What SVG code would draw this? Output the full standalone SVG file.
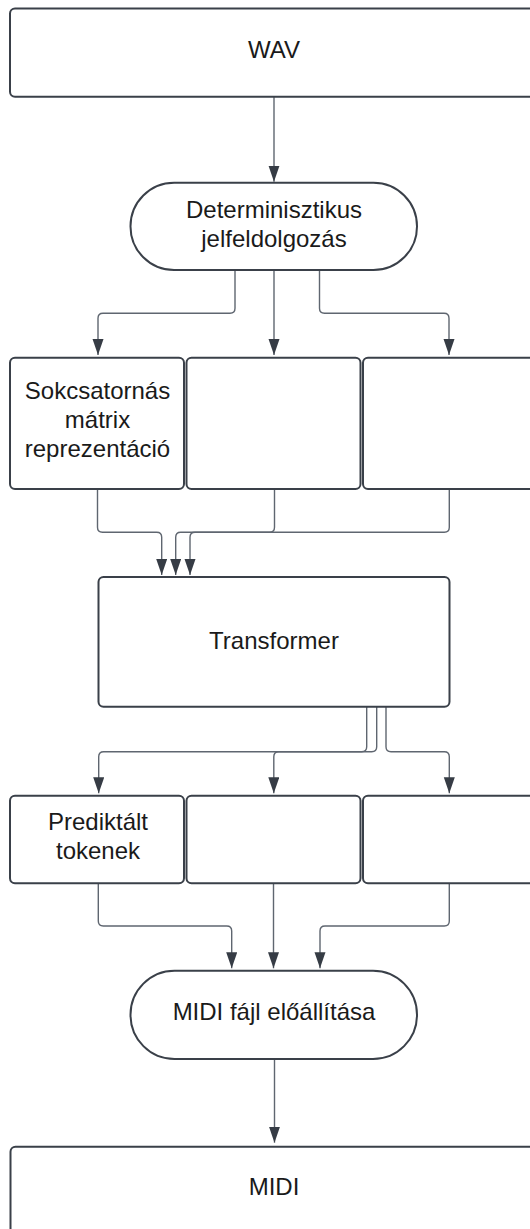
<svg xmlns="http://www.w3.org/2000/svg" width="530" height="1229" viewBox="0 0 530 1229">
<style>
.box{fill:#ffffff;stroke:#3a4049;stroke-width:2}
.lbl{font-family:"Liberation Sans",Arial,sans-serif;font-size:24px;fill:#1a1a1a;text-anchor:middle}
.con{fill:none;stroke:#5f6670;stroke-width:1.4}
</style>
<defs>
<marker id="ah" markerUnits="userSpaceOnUse" markerWidth="17" markerHeight="12" refX="16" refY="5.5" orient="auto">
<path d="M0,0 L16,5.5 L0,11 Z" fill="#363c45"/>
</marker>
</defs>
<rect width="530" height="1229" fill="#ffffff"/>
<g id="connectors">
<path class="con" marker-end="url(#ah)" d="M274 96.7 V181.7"/>
<path class="con" marker-end="url(#ah)" d="M235 270 V308.3 Q235 313.3 230 313.3 H103 Q98 313.3 98 318.3 V355"/>
<path class="con" marker-end="url(#ah)" d="M274 270 V355"/>
<path class="con" marker-end="url(#ah)" d="M319.5 270 V308.3 Q319.5 313.3 324.5 313.3 H444 Q449 313.3 449 318.3 V355"/>
<path class="con" marker-end="url(#ah)" d="M97.5 489 V527.3 Q97.5 532.3 102.5 532.3 H156.7 Q161.7 532.3 161.7 537.3 V575"/>
<path class="con" marker-end="url(#ah)" d="M274.5 489 V527.3 Q274.5 532.3 269.5 532.3 H180.7 Q175.7 532.3 175.7 537.3 V575"/>
<path class="con" marker-end="url(#ah)" d="M449.3 489 V527.3 Q449.3 532.3 444.3 532.3 H195 Q190 532.3 190 537.3 V575"/>
<path class="con" marker-end="url(#ah)" d="M366.7 706.7 V746.7 Q366.7 751.7 361.7 751.7 H103.7 Q98.7 751.7 98.7 756.7 V793.3"/>
<path class="con" marker-end="url(#ah)" d="M376.7 706.7 V746.7 Q376.7 751.7 371.7 751.7 H278.8 Q273.8 751.7 273.8 756.7 V793.3"/>
<path class="con" marker-end="url(#ah)" d="M386 706.7 V746.7 Q386 751.7 391 751.7 H444.3 Q449.3 751.7 449.3 756.7 V793.3"/>
<path class="con" marker-end="url(#ah)" d="M98.3 883.3 V921 Q98.3 926 103.3 926 H226.7 Q231.7 926 231.7 931 V968.3"/>
<path class="con" marker-end="url(#ah)" d="M273.5 883.3 V968.3"/>
<path class="con" marker-end="url(#ah)" d="M449.3 883.3 V921 Q449.3 926 444.3 926 H325 Q320 926 320 931 V968.3"/>
<path class="con" marker-end="url(#ah)" d="M274.5 1059 V1142.7"/>
</g>
<g id="wav">
<rect class="box" x="10" y="8.5" width="528" height="88.2" rx="5"/>
<text class="lbl" x="274" y="58.3">WAV</text>
</g>
<g id="jelfeldolgozas">
<rect class="box" x="130.5" y="182.7" width="286.5" height="87.3" rx="43.6"/>
<text class="lbl" x="274" y="218.3">Determinisztikus</text>
<text class="lbl" x="274" y="246.7">jelfeldolgozás</text>
</g>
<g id="matrix1">
<rect class="box" x="10" y="357.7" width="174" height="131.3" rx="5"/>
<text class="lbl" x="97.5" y="399">Sokcsatornás</text>
<text class="lbl" x="97.5" y="427.7">mátrix</text>
<text class="lbl" x="97.5" y="456.7">reprezentáció</text>
</g>
<g id="matrix2">
<rect class="box" x="186.5" y="357.7" width="174" height="131.3" rx="5"/>
</g>
<g id="matrix3">
<rect class="box" x="363" y="357.7" width="174" height="131.3" rx="5"/>
</g>
<g id="transformer">
<rect class="box" x="98.5" y="577" width="351" height="129.7" rx="5"/>
<text class="lbl" x="274" y="649">Transformer</text>
</g>
<g id="tokens1">
<rect class="box" x="10" y="795.7" width="174" height="87.6" rx="5"/>
<text class="lbl" x="98" y="830">Prediktált</text>
<text class="lbl" x="98" y="859">tokenek</text>
</g>
<g id="tokens2">
<rect class="box" x="186.5" y="795.7" width="174" height="87.6" rx="5"/>
</g>
<g id="tokens3">
<rect class="box" x="363" y="795.7" width="174" height="87.6" rx="5"/>
</g>
<g id="midi-gen">
<rect class="box" x="130.5" y="970.7" width="286.5" height="88.3" rx="44"/>
<text class="lbl" x="274" y="1020">MIDI fájl előállítása</text>
</g>
<g id="midi">
<rect class="box" x="10.5" y="1146.7" width="528" height="88.2" rx="5"/>
<text class="lbl" x="274" y="1195">MIDI</text>
</g>
</svg>
